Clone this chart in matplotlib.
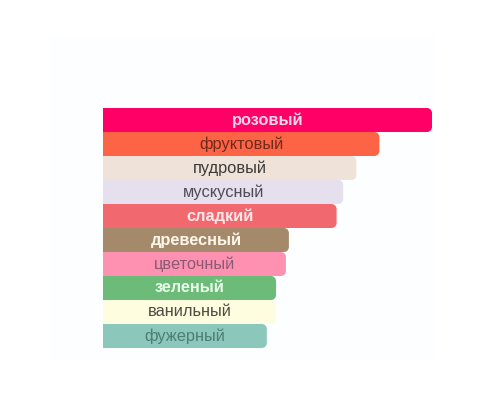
import numpy as np
import matplotlib
matplotlib.use('Agg')
import matplotlib.pyplot as plt
from matplotlib.patches import Polygon, Rectangle

# данные (ноты аромата)
notes = ['розовый', 'фруктовый', 'пудровый', 'мускусный', 'сладкий',
         'древесный', 'цветочный', 'зеленый', 'ванильный', 'фужерный']
values = [100, 84, 77, 73, 71, 56.5, 55.6, 52.6, 52.6, 49.8]
bar_colors = ['#fe0066', '#fd6446', '#efe3d9', '#e6dfee', '#f1696e',
              '#a5896b', '#fe91b1', '#6cbb79', '#fffddf', '#8bc8bb']
text_colors = ['#f7d6ec', '#6e2a1c', '#3f3a36', '#4f4a55', '#fde6ea',
               '#fff6ea', '#8a5c72', '#eafbea', '#4e4c40', '#4d7d76']
bold = [True, False, False, False, True, True, False, True, False, False]

plt.rcParams['font.family'] = ['Liberation Sans', 'DejaVu Sans']

fig = plt.figure(figsize=(5, 4), dpi=100)
fig.patch.set_facecolor('white')
# еле заметная подложка
fig.patches.append(Rectangle((0.10, 0.10), 0.77, 0.81, transform=fig.transFigure,
                             facecolor='#fdfeff', edgecolor='none', zorder=-5))

ax = fig.add_axes([0.206, 0.13, 0.658, 0.60])
ax.set_zorder(1)
ax.set_xlim(0, 100)
ax.set_ylim(len(notes) - 0.5, -0.5)
ax.axis('off')

# радиус скругления в пикселях -> в единицах данных
px_x = 0.658 * 500 / 100
px_y = 0.60 * 400 / len(notes)
r_px = 5
rx, ry = r_px / px_x, r_px / px_y


def rounded_bar(y, w, color):
    top, bot = y - 0.5, y + 0.5
    t = np.linspace(0, np.pi / 2, 8)
    pts = [(0, bot), (0, top)]
    # верхний правый угол
    for a in t[::-1]:
        pts.append((w - rx + rx * np.cos(a), top + ry - ry * np.sin(a)))
    # нижний правый угол
    for a in t:
        pts.append((w - rx + rx * np.cos(a), bot - ry + ry * np.sin(a)))
    ax.add_patch(Polygon(pts, closed=True, facecolor=color, edgecolor='none'))


for i, (name, v) in enumerate(zip(notes, values)):
    rounded_bar(i, v, bar_colors[i])
    ax.text(v / 2, i, name, ha='center', va='center', fontsize=11.8,
            color=text_colors[i], fontweight='bold' if bold[i] else 'normal')

fig.savefig('out.png', dpi=100)
